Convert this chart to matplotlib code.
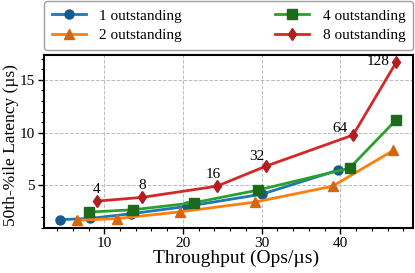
import matplotlib
matplotlib.use("Agg")
import matplotlib.pyplot as plt
from matplotlib.ticker import MultipleLocator

plt.rcParams['font.family'] = ['Liberation Serif', 'DejaVu Serif']

# Data
x1 = [4.4, 8.2, 13.4, 20.5, 30.05, 39.7]
y1 = [1.76, 1.88, 2.32, 3.02, 4.18, 6.45]
x2 = [6.5, 11.6, 19.6, 29.1, 39.0, 46.7]
y2 = [1.7, 1.86, 2.5, 3.42, 4.93, 8.32]
x4 = [8.1, 13.7, 21.4, 29.5, 41.15, 47.1]
y4 = [2.48, 2.7, 3.36, 4.56, 6.64, 11.24]
x8 = [9.1, 14.8, 24.3, 30.5, 41.6, 47.1]
y8 = [3.52, 3.87, 4.93, 6.82, 9.78, 16.7]
labels8 = ["4", "8", "16", "32", "64", "128"]
series_names = ["1 outstanding", "2 outstanding", "4 outstanding", "8 outstanding"]

fig = plt.figure(figsize=(4.15, 2.73), dpi=100)
ax = fig.add_axes([0.107, 0.166, 0.888, 0.632])

styles = [
    (x1, y1, '#1f77b4', '#175a8c', 'o', 6.5),
    (x2, y2, '#ff7f0e', '#d9650b', '^', 6.5),
    (x4, y4, '#2ca02c', '#1c6b1c', 's', 6.5),
    (x8, y8, '#d62728', '#b01e20', 'd', 6.5),
]
handles = []
for (xs, ys, c, mc, m, ms), name in zip(styles, series_names):
    h, = ax.plot(xs, ys, color=c, lw=2.0, marker=m, markersize=ms,
                 markerfacecolor=mc, markeredgecolor=mc, label=name, zorder=3)
    handles.append(h)

offsets = [(2, 4), (3, 4), (3, 4), (-1, 2), (-4, 0), (-5, -4)]
for xv, yv, lab, off in zip(x8, y8, labels8, offsets):
    ax.annotate(lab, (xv, yv), xytext=off, textcoords='offset points',
                ha='right', va='bottom', fontsize=11)

ax.set_xlim(2.4, 49.2)
ax.set_ylim(1.0, 17.35)
ax.xaxis.set_major_locator(MultipleLocator(10))
ax.xaxis.set_minor_locator(MultipleLocator(2))
ax.yaxis.set_major_locator(MultipleLocator(5))
ax.yaxis.set_minor_locator(MultipleLocator(1))
ax.tick_params(which='both', direction='out', top=False, right=False, labelsize=11)
ax.tick_params(which='major', length=4, width=1, pad=3)
ax.tick_params(which='minor', length=2.5, width=0.8)
ax.grid(True, which='major', linestyle='--', color='#bbbbbb', lw=0.7)
ax.set_axisbelow(True)
for s in ax.spines.values():
    s.set_linewidth(1.5)

ax.set_xlabel("Throughput (Ops/µs)", fontsize=14, labelpad=1)
ax.set_ylabel("50th-%ile Latency (µs)", fontsize=12.5, labelpad=1)
ax.xaxis.set_label_coords(0.52, -0.13)
ax.yaxis.set_label_coords(-0.068, 0.48)

leg = ax.legend(handles, series_names, ncol=2, loc='lower left',
                bbox_to_anchor=(0.0, 1.03, 1.0, 0.2), mode='expand',
                fontsize=11, handlelength=2.2, handletextpad=0.9,
                borderaxespad=0, borderpad=0.5,
                frameon=True, fancybox=True, labelspacing=0.4)
leg.get_frame().set_edgecolor('#888888')

fig.savefig("out.png", dpi=100)
